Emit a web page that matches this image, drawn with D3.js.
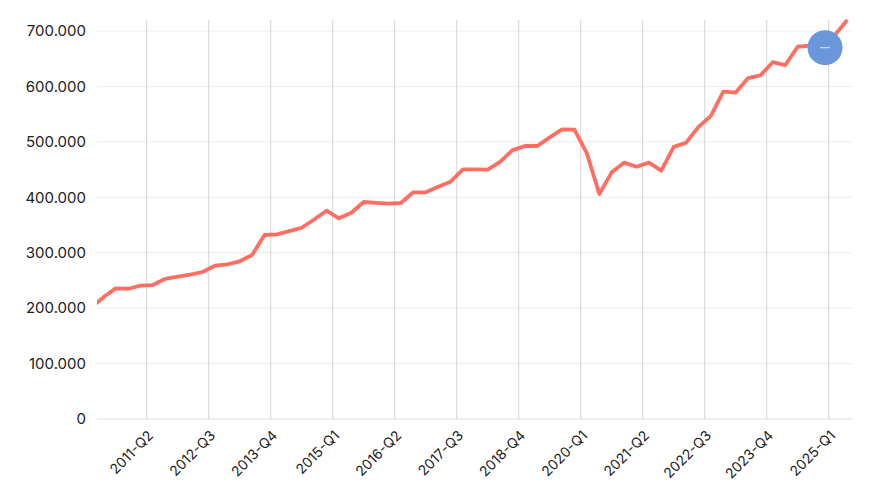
<!DOCTYPE html>
<html><head><meta charset="utf-8">
<script src="https://cdn.jsdelivr.net/npm/d3@7"></script>
<style>body{margin:0;background:#fff}text{font-family:Inter,"Noto Sans",sans-serif}</style>
</head><body><svg id="c" width="873" height="500"></svg>
<script>
const startYear = 2010, startQ = 2;
const values = [200,219.5,235.7,235,240.5,241.7,253,256.7,260.4,265.2,276.6,279,284.5,295.9,332,333,339,345,360,375.8,362,372,391.5,390,388.4,389.7,409,409,419,428,450.5,450.5,450,464,485,492.5,492.5,508,522.6,522,479,406,445,462.5,455,462.5,448,491,498.5,527,547,590.5,589,615,620,644,638.6,671.6,673.5,675,692.8,720];
const quarters = values.map((v,i)=>{const t=(startQ-1)+i;return (startYear+Math.floor(t/4))+"-Q"+(t%4+1);});
const tickLabels = ["2011-Q2","2012-Q3","2013-Q4","2015-Q1","2016-Q2","2017-Q3","2018-Q4","2020-Q1","2021-Q2","2022-Q3","2023-Q4","2025-Q1"];
const yTicks = [0,100,200,300,400,500,600,700];

const svg = d3.select("#c");
const L=97, R=852, T=20, B=419;
const step=12.4, x0=90.9;
const x = d3.scaleBand().domain(quarters).range([x0, x0+step*quarters.length]).padding(0);
const y = d3.scaleLinear().domain([0,700]).range([B,31]);

svg.append("defs").append("clipPath").attr("id","clip").append("rect").attr("x",L).attr("y",0).attr("width",R-L+5).attr("height",B);

svg.append("g").selectAll("line").data(yTicks).join("line")
  .attr("x1",L).attr("x2",R).attr("y1",d=>y(d)).attr("y2",d=>y(d))
  .attr("stroke",d=>d===0?"#ddd":"#ececec").attr("stroke-width",1);
svg.append("g").selectAll("line").data(tickLabels).join("line")
  .attr("x1",d=>x(d)+x.bandwidth()/2).attr("x2",d=>x(d)+x.bandwidth()/2)
  .attr("y1",T).attr("y2",B).attr("stroke","#d6d6d6").attr("stroke-width",1);

const fmt = d=> d===0?"0":d3.format(",")(d*1000).replace(/,/g,".");
svg.append("g").selectAll("text").data(yTicks).join("text")
  .attr("x",86).attr("y",d=>y(d)).attr("dy","0.35em").attr("text-anchor","end")
  .attr("font-size",15).attr("fill","#222").text(d=>fmt(d));

svg.append("g").selectAll("text").data(tickLabels).join("text")
  .attr("transform",d=>`translate(${x(d)+x.bandwidth()/2+4},${B+14}) rotate(-45)`)
  .attr("text-anchor","end").attr("dy","0.35em").attr("font-size",14).attr("fill","#222").text(d=>d);

const line = d3.line().x((d,i)=>x(quarters[i])).y(d=>y(d));
svg.append("path").datum(values).attr("clip-path","url(#clip)").attr("d",line)
  .attr("fill","none").attr("stroke","#ff6e61").attr("stroke-width",3.8).attr("stroke-linejoin","round");

svg.append("circle").attr("cx",825).attr("cy",47.7).attr("r",17.5).attr("fill","#6a96dc");
svg.append("line").attr("x1",820).attr("x2",830).attr("y1",47.7).attr("y2",47.7).attr("stroke","#dfe8f8").attr("stroke-width",1);
</script></body></html>
